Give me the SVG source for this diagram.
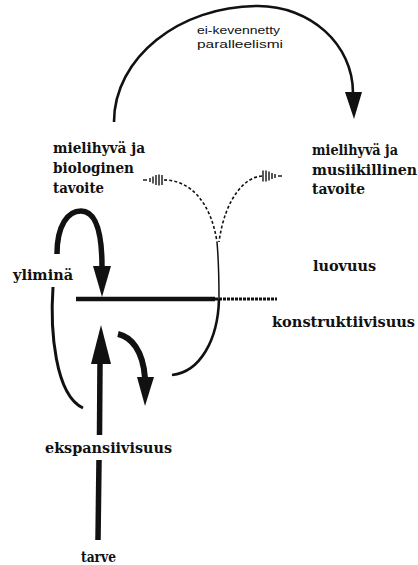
<svg xmlns="http://www.w3.org/2000/svg" width="418" height="565" viewBox="0 0 418 565">
<style>
.lbl{font-family:"DejaVu Serif","Liberation Serif",serif;font-weight:bold;font-size:14px;fill:#111}
.sans{font-family:"Liberation Sans",Arial,sans-serif;font-size:11.5px;fill:#111}
.thick{fill:none;stroke:#111;stroke-linecap:butt}
.thin{fill:none;stroke:#111}
.dash{fill:none;stroke:#111;stroke-width:1.6;stroke-dasharray:3 2.2}
.tick{stroke:#111;stroke-width:1.4}
.head{fill:#111}
</style>
<rect width="418" height="565" fill="#fff"/>
<g id="connectors">
  <path class="thin" stroke-width="2.6" d="M114 122 C114 58 179 6 258 6 C310 6 353 44 353 93"/>
  <polygon class="head" points="345,92 362,92 354,119"/>
  <path class="thick" stroke-width="5.5" d="M57 254 C57 225 68 211 81 211 C95 211 102 230 102 267"/>
  <polygon class="head" points="93,266 111,266 102,297"/>
  <line class="thick" stroke-width="4.5" x1="76" y1="299" x2="215" y2="299"/>
  <line class="thin" stroke-width="3.2" stroke-dasharray="3 1" x1="215" y1="299" x2="277" y2="299"/>
  <path class="thin" stroke-width="3" d="M53 287 C50 330 55 395 83 408"/>
  <line class="thick" stroke-width="5.5" x1="100" y1="362" x2="99.5" y2="435"/>
  <line class="thick" stroke-width="5.5" x1="99" y1="460" x2="98" y2="540"/>
  <polygon class="head" points="91,364 111,364 101,325"/>
  <path class="thick" stroke-width="6" d="M118 334 C131 337 143 350 145 378"/>
  <polygon class="head" points="137,377 154,377 145,406"/>
  <path class="thin" stroke-width="1.5" d="M217 242 C219 265 219 285 219 299"/>
  <path class="thin" stroke-width="2.6" d="M219 299 C218 340 200 372 172 375"/>
  <path class="dash" d="M164 180 C190 180 211 202 217 242"/>
  <path class="dash" d="M262 176 C245 177 225 198 219 242"/>
  <line class="tick" x1="143" y1="180" x2="147" y2="180"/>
  <line class="tick" x1="150" y1="178" x2="150" y2="182"/>
  <line class="tick" x1="153" y1="176.5" x2="153" y2="183.5"/>
  <line class="tick" x1="156" y1="175" x2="156" y2="185"/>
  <line class="tick" x1="159" y1="174.5" x2="159" y2="185.5"/>
  <line class="tick" x1="162" y1="175" x2="162" y2="185"/>
  <line class="tick" x1="263" y1="170.5" x2="263" y2="181.5"/>
  <line class="tick" x1="266" y1="170.5" x2="266" y2="181.5"/>
  <line class="tick" x1="269" y1="171.5" x2="269" y2="180.5"/>
  <line class="tick" x1="272" y1="173" x2="272" y2="179"/>
  <line class="tick" x1="275" y1="174" x2="275" y2="178"/>
  <line class="tick" x1="278" y1="176" x2="282" y2="176"/>
</g>
<g id="label-top">
  <text class="sans" x="197" y="34" textLength="83" lengthAdjust="spacingAndGlyphs">ei-kevennetty</text>
  <text class="sans" x="197" y="48" textLength="86" lengthAdjust="spacingAndGlyphs">paralleelismi</text>
</g>
<g id="node-biologinen">
  <text class="lbl" x="53" y="153" textLength="92" lengthAdjust="spacingAndGlyphs">mielihyvä ja</text>
  <text class="lbl" x="53" y="173" textLength="81" lengthAdjust="spacingAndGlyphs">biologinen</text>
  <text class="lbl" x="53" y="193" textLength="51" lengthAdjust="spacingAndGlyphs">tavoite</text>
</g>
<g id="node-musiikillinen">
  <text class="lbl" x="312" y="155" textLength="86" lengthAdjust="spacingAndGlyphs">mielihyvä ja</text>
  <text class="lbl" x="312" y="175" textLength="105" lengthAdjust="spacingAndGlyphs">musiikillinen</text>
  <text class="lbl" x="312" y="194" textLength="53" lengthAdjust="spacingAndGlyphs">tavoite</text>
</g>
<g id="node-luovuus">
  <text class="lbl" x="313" y="271" textLength="63" lengthAdjust="spacingAndGlyphs">luovuus</text>
</g>
<g id="node-konstruktiivisuus">
  <text class="lbl" x="272" y="327" textLength="143" lengthAdjust="spacingAndGlyphs">konstruktiivisuus</text>
</g>
<g id="node-ylimina">
  <text class="lbl" x="13" y="280" textLength="60" lengthAdjust="spacingAndGlyphs">yliminä</text>
</g>
<g id="node-ekspansiivisuus">
  <text class="lbl" x="45" y="453" textLength="127" lengthAdjust="spacingAndGlyphs">ekspansiivisuus</text>
</g>
<g id="node-tarve">
  <text class="lbl" x="81" y="562" textLength="35" lengthAdjust="spacingAndGlyphs">tarve</text>
</g>
</svg>
